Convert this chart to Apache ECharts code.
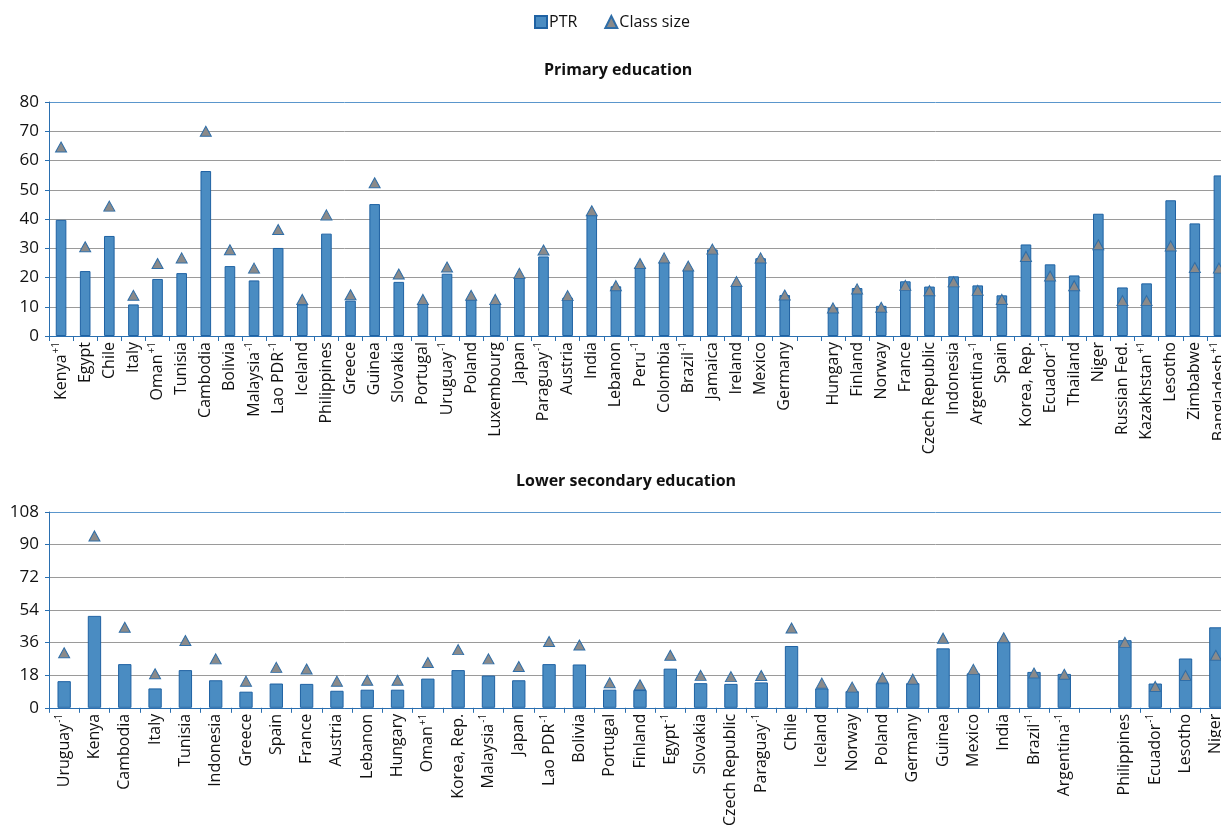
<!DOCTYPE html>
<html>
<head>
<meta charset="utf-8">
<script src="https://cdn.jsdelivr.net/npm/echarts@6/dist/echarts.min.js"></script>
<style>
html,body{margin:0;padding:0;background:#fff;overflow:hidden;}
#chart{width:1245px;height:829px;}
</style>
</head>
<body>
<div id="chart"></div>
<script>
// ---- Primary education ----
var primaryCategories = ['Kenya^+1','Egypt','Chile','Italy','Oman^+1','Tunisia','Cambodia','Bolivia','Malaysia^-1','Lao PDR^-1','Iceland','Philippines','Greece','Guinea','Slovakia','Portugal','Uruguay^-1','Poland','Luxembourg','Japan','Paraguay^-1','Austria','India','Lebanon','Peru^-1','Colombia','Brazil^-1','Jamaica','Ireland','Mexico','Germany','','Hungary','Finland','Norway','France','Czech Republic','Indonesia','Argentina^-1','Spain','Korea, Rep.','Ecuador^-1','Thailand','Niger','Russian Fed.','Kazakhstan^+1','Lesotho','Zimbabwe','Bangladesh^+1'];
var primaryPTR = [39.7,22.2,34.2,10.8,19.5,21.5,56.4,23.9,19.0,30.1,10.8,35.0,12.1,45.1,18.5,11.1,21.3,12.5,11.1,19.9,27.2,13.1,41.4,17.0,23.7,25.4,22.7,29.6,17.1,26.6,14.0,null,9.7,16.4,10.3,18.7,16.9,20.4,17.3,13.9,31.3,24.5,20.7,41.8,16.6,18.0,46.4,38.5,54.9];
var primaryClass = [64.6,30.5,44.4,13.9,24.8,26.7,70.0,29.5,23.2,36.4,12.5,41.4,14.1,52.4,21.2,12.5,23.6,13.9,12.5,21.4,29.4,13.8,42.8,17.2,24.8,26.7,23.9,29.7,18.6,26.7,14.0,null,9.6,16.1,9.8,17.3,15.5,18.5,15.6,12.5,27.2,20.5,17.2,31.2,12.1,12.1,30.8,23.4,23.2];
var primaryTicks = {min:0, max:80, interval:10};

// ---- Lower secondary education ----
var lowerCategories = ['Uruguay^-1','Kenya','Cambodia','Italy','Tunisia','Indonesia','Greece','Spain','France','Austria','Lebanon','Hungary','Oman^+1','Korea, Rep.','Malaysia^-1','Japan','Lao PDR^-1','Bolivia','Portugal','Finland','Egypt^-1','Slovakia','Czech Republic','Paraguay^-1','Chile','Iceland','Norway','Poland','Germany','Guinea','Mexico','India','Brazil^-1','Argentina^-1','','Philippines','Ecuador^-1','Lesotho','Niger'];
var lowerPTR = [14.7,50.7,24.1,10.7,20.8,15.2,8.9,13.4,13.2,9.4,10.0,10.0,16.1,20.8,17.8,15.2,24.1,23.9,10.0,9.8,21.6,13.6,13.2,14.0,34.1,10.7,9.2,13.6,13.6,32.8,19.0,36.4,19.8,18.7,null,37.3,13.4,27.2,44.4];
var lowerClass = [30.4,94.8,44.4,18.8,37.1,27.0,14.7,22.3,21.4,14.7,15.2,15.2,25.0,32.1,27.0,22.8,36.6,34.6,13.8,12.7,29.0,17.9,17.2,17.8,44.0,13.6,11.4,16.5,15.8,38.4,21.2,38.6,19.2,18.5,null,36.1,11.8,17.8,29.0];
var lowerTicks = {min:0, max:108, interval:18};

var titles = ['Primary education','Lower secondary education'];
var seriesNames = ['PTR','Class size'];

var FONT = '"Open Sans", "Noto Sans", sans-serif';
var BLUE_AXIS = '#2a6fb0';
var BAR_FILL = '#4a8cc2';
var BAR_EDGE = '#1f62a3';
var GRID_GREY = '#9a9a9a';
var TOP_BLUE = '#5a96cc';

function fmtLabel(v){
  if(!v) return '';
  var p = v.split('^');
  if(p.length === 1) return '{n|' + p[0] + '}';
  return '{n|' + p[0] + '}{s|' + p[1] + '}';
}
function splitColors(t){
  var n = Math.round((t.max - t.min)/t.interval) + 1, arr = [];
  for(var i=0;i<n;i++) arr.push(i === n-1 ? TOP_BLUE : GRID_GREY);
  return arr;
}
function xAxis(idx, cats){
  return {
    type:'category', gridIndex: idx, data: cats,
    axisLine:{show:true, lineStyle:{color:BLUE_AXIS, width:1}},
    axisTick:{show:true, alignWithLabel:false, length:5, lineStyle:{color:BLUE_AXIS}},
    axisLabel:{
      interval:0, rotate:90, margin:6, color:'#111', fontFamily:FONT, fontSize:16,
      formatter: fmtLabel,
      rich:{
        n:{fontSize:16, fontFamily:FONT, color:'#111', lineHeight:20},
        s:{fontSize:10, fontFamily:FONT, color:'#111', lineHeight:20, verticalAlign:'top', padding:[0,0,8,1]}
      }
    },
    splitLine:{show:false}
  };
}
function yAxis(idx, t){
  return {
    type:'value', gridIndex: idx, min:t.min, max:t.max, interval:t.interval,
    axisLine:{show:true, lineStyle:{color:BLUE_AXIS, width:1}},
    axisTick:{show:true, length:4, lineStyle:{color:BLUE_AXIS}},
    axisLabel:{color:'#111', fontFamily:FONT, fontSize:17, margin:10},
    splitLine:{show:true, lineStyle:{color:splitColors(t), width:1}}
  };
}
function barSeries(idx, data){
  return {
    name: seriesNames[0], type:'bar', xAxisIndex:idx, yAxisIndex:idx, data:data,
    barWidth:'44%',
    itemStyle:{color:BAR_FILL, borderColor:BAR_EDGE, borderWidth:1},
    z:2
  };
}
function triSeries(idx, data){
  return {
    name: seriesNames[1], type:'scatter', xAxisIndex:idx, yAxisIndex:idx, data:data,
    symbol:'triangle', symbolSize:[11,10],
    itemStyle:{color:'#8a8a8a', borderColor:'#2f6ea8', borderWidth:1, opacity:1},
    z:5
  };
}

var chart = echarts.init(document.getElementById('chart'), null, {renderer:'canvas'});
chart.setOption({
  animation:false,
  backgroundColor:'#ffffff',
  textStyle:{fontFamily:FONT},
  legend:{
    data:[
      {name:seriesNames[0], icon:'rect'},
      {name:seriesNames[1], icon:'triangle'}
    ],
    left:529, top:9, itemWidth:12, itemHeight:12, itemGap:27,
    textStyle:{fontSize:16, color:'#111', fontFamily:FONT, padding:[0,0,0,-3]}
  },
  title:[
    {text:titles[0], left:539, top:57, textStyle:{fontSize:16, fontWeight:'bold', color:'#111', fontFamily:FONT}},
    {text:titles[1], left:511, top:468, textStyle:{fontSize:16, fontWeight:'bold', color:'#111', fontFamily:FONT}}
  ],
  grid:[
    {left:49, top:102, right:14, height:234, show:false},
    {left:49, top:512, right:14, height:199, show:false}
  ],
  xAxis:[xAxis(0, primaryCategories), xAxis(1, lowerCategories)],
  yAxis:[yAxis(0, primaryTicks), yAxis(1, lowerTicks)],
  series:[
    barSeries(0, primaryPTR), triSeries(0, primaryClass),
    barSeries(1, lowerPTR), triSeries(1, lowerClass)
  ]
});
</script>
</body>
</html>
